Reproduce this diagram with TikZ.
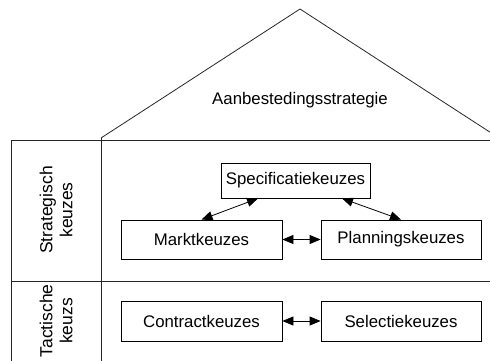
\documentclass[tikz,border=0pt]{standalone}
\usepackage{fontspec}
\setmainfont{Liberation Sans}
\usetikzlibrary{arrows.meta}
\begin{document}
\begin{tikzpicture}[x=1pt,y=-1pt,
  every node/.style={font=\fontsize{16.8}{19}\selectfont, text=black},
  sidelabel/.style={rotate=90, align=center, font=\fontsize{17.5}{20}\selectfont},
  choice/.style={draw, line width=0.8pt, inner sep=0pt, minimum height=39pt},
  link/.style={line width=0.8pt, {Triangle[length=11pt,width=9pt]}-{Triangle[length=11pt,width=9pt]}},
  frame/.style={line width=0.8pt, draw=black!85}]
  \useasboundingbox (0,0) rectangle (490,360);
  \clip (0,0) rectangle (490,360);

  % roof
  \draw[frame] (101,138) -- (300,9) -- (499,138);
  \node (roof) at (300,100) {Aanbestedingsstrategie};

  % frame with the two rows and the label column
  \draw[frame] (11,362) -- (11,140) -- (492,140);
  \draw[frame] (101,138) -- (101,362);
  \draw[frame] (11,281) -- (492,281);

  \node[sidelabel] (strat) at (56,210) {Strategisch\\keuzes};
  \node[sidelabel] (tact) at (56,321) {Tactische\\keuzs};

  % strategic choices
  \node[choice, minimum width=149pt, minimum height=35pt] (spec) at (295.5,180.5) {Specificatiekeuzes};
  \node[choice, minimum width=161pt] (markt) at (201.5,239.5) {Marktkeuzes};
  \node[choice, minimum width=160pt] (plan) at (401,239.5) {Planningskeuzes};

  % tactical choices
  \node[choice, minimum width=161pt, minimum height=40pt] (contract) at (201.5,321) {Contractkeuzes};
  \node[choice, minimum width=160pt, minimum height=40pt] (select) at (401,321) {Selectiekeuzes};

  % relations
  \draw[link] (markt.north) -- ([xshift=-37.5pt]spec.south);
  \draw[link] ([xshift=46.5pt]spec.south) -- (plan.north);
  \draw[link] (markt) -- (plan);
  \draw[link] (contract) -- (select);
\end{tikzpicture}
\end{document}
